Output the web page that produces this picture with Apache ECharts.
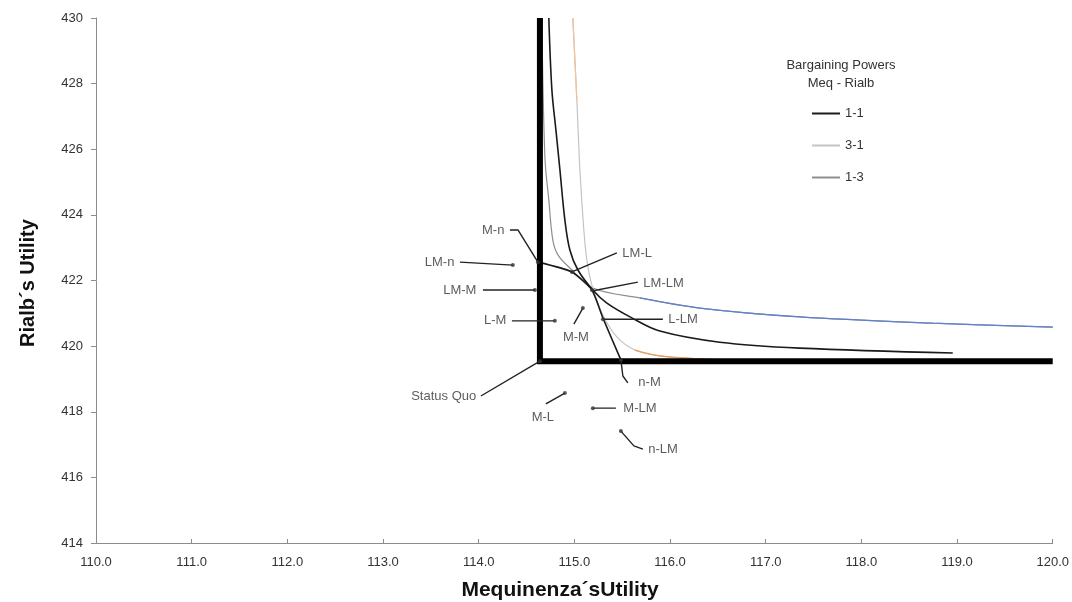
<!DOCTYPE html>
<html><head><meta charset="utf-8">
<script src="https://cdn.jsdelivr.net/npm/echarts@6/dist/echarts.min.js"></script>
<style>html,body{margin:0;padding:0;background:#fff}#c{width:1072px;height:602px}</style>
</head><body><div id="c"></div>
<script>
// ---- axis ranges / ticks ----
const xMin = 110, xMax = 120, xStep = 1;
const yMin = 414, yMax = 430, yStep = 2;

// ---- status quo (thick frame corner) ----
const sqX = 114.64, sqY = 419.54;

// ---- bargaining curves (Meq - Rialb) ----
const c11X = [114.733,114.765,114.807,114.849,114.901,114.953,115.037,115.193,115.340,115.601,115.893,116.520,117.356,118.955];
const c11Y = [430.00,427.81,426.59,425.37,423.84,422.93,422.32,421.71,421.31,420.86,420.46,420.12,419.94,419.79];

const c31X = [114.984,115.026,115.058,115.099,115.131,115.183,115.298,115.444,115.632,115.893,116.311,116.938];
const c31Y = [430.00,427.50,425.37,423.54,422.62,421.86,420.95,420.28,419.88,419.70,419.61,419.55];

const c13X = [114.660,114.692,114.733,114.775,114.828,114.953,115.193,115.684,116.311,117.356,118.746,120.000];
const c13Y = [430.00,425.76,424.45,423.23,422.78,422.38,421.77,421.47,421.16,420.89,420.70,420.58];

// frontier through the solution points
const frX = [114.619,114.974,115.183,115.298,115.486];
const frY = [422.56,422.26,421.71,420.86,419.58];

// ---- annotated points ----
const annNames  = ['Status Quo','M-n','LM-n','LM-M','L-M','M-M','LM-L','LM-LM','L-LM','n-M','M-L','M-LM','n-LM'];
const annPointX = [114.64,114.619,114.357,114.587,114.796,115.089,114.974,115.183,115.298,115.486,114.901,115.193,115.486];
const annPointY = [419.54,422.56,422.47,421.71,420.77,421.16,422.26,421.71,420.82,419.58,418.57,418.11,417.41];
const annLabelX = [113.99,114.284,113.762,113.992,114.305,115.016,115.486,115.705,115.966,115.653,114.671,115.496,115.757];
const annLabelY = [418.48,423.54,422.56,421.71,420.77,420.28,422.84,421.92,420.80,418.88,417.84,418.11,416.86];
const annAlign  = ['right','right','right','right','right','center','left','left','left','left','center','left','left'];
const annPathX  = [[114.023,114.64],[114.326,114.410,114.619],[113.804,114.357],[114.044,114.587],[114.347,114.796],
                   [114.995,115.089],[115.444,114.974],[115.663,115.183],[115.925,115.298],[115.559,115.507,115.486],
                   [114.702,114.901],[115.434,115.193],[115.716,115.622,115.486]];
const annPathY  = [[418.48,419.54],[423.54,423.54,422.56],[422.56,422.47],[421.71,421.71],[420.77,420.77],
                   [420.67,421.16],[422.84,422.26],[421.95,421.68],[420.82,420.82],[418.88,419.09,419.58],
                   [418.24,418.57],[418.11,418.11],[416.86,416.96,417.41]];

const legendTitle = ['Bargaining Powers','Meq - Rialb'];
const xTitle = 'Mequinenza´sUtility';
const yTitle = 'Rialb´s Utility';

const zip = (xs, ys) => xs.map((x, i) => [x, ys[i]]);
const FONT = 'Liberation Sans';
const TXT = '#333';
const SM = 0.35;

const series = [];
series.push({name:'1-3', type:'line', symbol:'none', z:2, smooth:SM, data: zip(c13X, c13Y),
  lineStyle:{color:'#8e8e8e', width:1.2}, itemStyle:{color:'#8e8e8e'}});
series.push({name:'1-3b', type:'line', symbol:'none', z:2, smooth:SM, data: zip(c13X, c13Y).slice(7),
  lineStyle:{color:'#5f82cf', width:1.2}});
series.push({name:'3-1', type:'line', symbol:'none', z:2, smooth:SM, data: zip(c31X, c31Y),
  lineStyle:{color:'#c4c4c4', width:1.2}, itemStyle:{color:'#c4c4c4'}});
series.push({name:'3-1t', type:'line', symbol:'none', z:2, data: zip(c31X, c31Y).slice(0,2),
  lineStyle:{color:'#f2c29a', width:1.2}});
series.push({name:'3-1b', type:'line', symbol:'none', z:2, smooth:SM, data: zip(c31X, c31Y).slice(8),
  lineStyle:{color:'#ec9a55', width:1.3}});
series.push({name:'1-1', type:'line', symbol:'none', z:3, smooth:SM, data: zip(c11X, c11Y),
  lineStyle:{color:'#1a1a1a', width:1.6}, itemStyle:{color:'#1a1a1a'}});
series.push({name:'frontier', type:'line', symbol:'none', z:3, smooth:0.2, data: zip(frX, frY),
  lineStyle:{color:'#1a1a1a', width:1.6}});
series.push({name:'sq', type:'line', symbol:'none', z:4,
  data: [[sqX, yMax],[sqX, sqY],[xMax, sqY]],
  lineStyle:{color:'#000', width:6, cap:'butt', join:'miter'}});

annNames.forEach((n, i) => {
  series.push({name:'ann'+i, type:'line', symbol:'none', z:5, data: zip(annPathX[i], annPathY[i]),
    lineStyle:{color:'#222', width:1.4}});
});
series.push({name:'dots', type:'scatter', z:6, symbolSize:4, itemStyle:{color:'#333'},
  data: zip(annPointX, annPointY)});
series.push({name:'labels', type:'scatter', z:6, symbolSize:1, itemStyle:{color:'rgba(0,0,0,0)'},
  data: annNames.map((n, i) => ({
    value:[annLabelX[i], annLabelY[i]], name:n,
    label:{show:true, formatter:n, distance:1,
      position: annAlign[i]==='right' ? 'left' : (annAlign[i]==='left' ? 'right' : 'inside'),
      fontFamily:FONT, fontSize:13, color:TXT}
  }))});

const chart = echarts.init(document.getElementById('c'), null, {renderer:'canvas'});
chart.setOption({
  animation:false,
  backgroundColor:'#fff',
  grid:{left:96, right:19, top:18, bottom:59, containLabel:false},
  xAxis:{type:'value', min:xMin, max:xMax, interval:xStep,
    axisLine:{show:true, onZero:false, lineStyle:{color:'#8c8c8c', width:1}},
    axisTick:{show:true, inside:true, length:4, lineStyle:{color:'#8c8c8c'}},
    axisLabel:{formatter:v => v.toFixed(1), margin:13, fontFamily:FONT, fontSize:13, color:TXT},
    splitLine:{show:false}},
  yAxis:{type:'value', min:yMin, max:yMax, interval:yStep,
    axisLine:{show:true, onZero:false, lineStyle:{color:'#8c8c8c', width:1}},
    axisTick:{show:true, length:5, lineStyle:{color:'#8c8c8c'}},
    axisLabel:{margin:13, fontFamily:FONT, fontSize:13, color:TXT},
    splitLine:{show:false}},
  legend:{data:['1-1','3-1','1-3'], orient:'vertical', left:806, top:102,
    itemWidth:28, itemHeight:14, itemGap:19, itemStyle:{opacity:0},
    textStyle:{fontFamily:FONT, fontSize:13, color:TXT}, selectedMode:false},
  graphic:[
    {type:'text', x:841, y:65, style:{text:legendTitle[0], fontFamily:FONT, fontSize:13, fill:TXT, align:'center', verticalAlign:'middle'}},
    {type:'text', x:841, y:83, style:{text:legendTitle[1], fontFamily:FONT, fontSize:13, fill:TXT, align:'center', verticalAlign:'middle'}},
    {type:'text', x:560, y:590, style:{text:xTitle, fontFamily:FONT, fontWeight:'bold', fontSize:21, fill:'#111', align:'center', verticalAlign:'middle'}},
    {type:'text', x:28, y:283, rotation:Math.PI/2, style:{text:yTitle, fontFamily:FONT, fontWeight:'bold', fontSize:20, fill:'#111', align:'center', verticalAlign:'middle'}}
  ],
  series: series
});
</script></body></html>
